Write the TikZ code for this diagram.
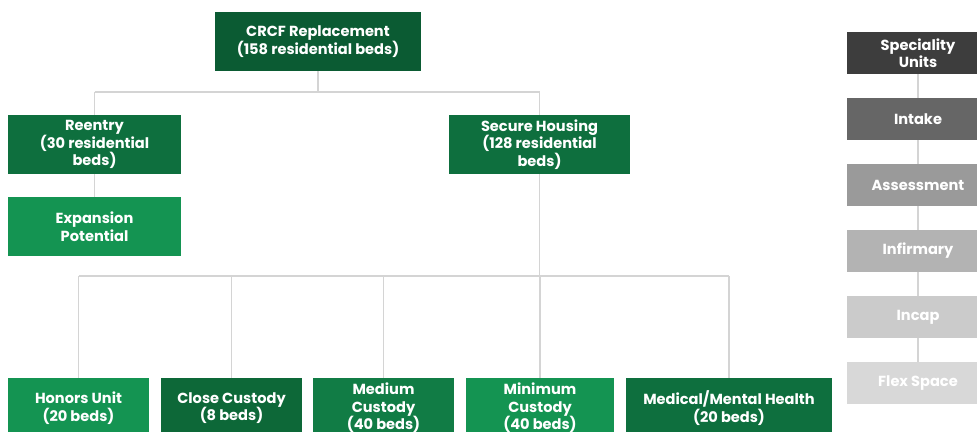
\documentclass[tikz,border=0pt]{standalone}
\usepackage{fontspec}
\setmainfont{Poppins}
\definecolor{gA}{HTML}{0B5B33}
\definecolor{gB}{HTML}{0E6F3E}
\definecolor{gC}{HTML}{149452}
\definecolor{gD}{HTML}{0D6838}
\definecolor{gE}{HTML}{117C45}
\definecolor{lineg}{HTML}{D4D4D4}
\definecolor{kA}{HTML}{3D3D3D}
\definecolor{kB}{HTML}{666666}
\definecolor{kC}{HTML}{9A9A9A}
\definecolor{kD}{HTML}{B3B3B3}
\definecolor{kE}{HTML}{CBCBCB}
\definecolor{kF}{HTML}{D8D8D8}
\tikzset{
  box/.style={draw=none, align=center, text=white, inner sep=0pt,
    font=\fontsize{14.6}{17.5}\selectfont\bfseries},
  lvlone/.style={box, minimum height=59pt},
  bottombox/.style={box, minimum height=60pt},
  sidebox/.style={box, minimum width=142pt, minimum height=42pt},
  ln/.style={draw=lineg, line width=1.3pt},
}
\begin{document}
\begin{tikzpicture}[x=1pt,y=-1pt]
\useasboundingbox (0,0) rectangle (977,431);
\begin{scope}
\clip (0,0) rectangle (977,431);
\coordinate (j1) at (318,92);
\coordinate (jl) at (94.5,92);
\coordinate (jr) at (539.5,92);
\coordinate (j2) at (539.5,276);
\coordinate (b1) at (78.5,276);
\coordinate (b2) at (231.5,276);
\coordinate (b3) at (383.5,276);
\coordinate (b4) at (540,276);
\coordinate (b5) at (729,276);

\node[lvlone, fill=gA, minimum width=206pt] (crcf) at (318,41.5) {CRCF Replacement\\(158 residential beds)};
\node[lvlone, fill=gB, minimum width=173pt] (reentry) at (94.5,144.5) {Reentry\\(30 residential\\beds)};
\node[lvlone, fill=gC, minimum width=173pt] (expansion) at (94.5,226.5) {Expansion\\Potential};
\node[lvlone, fill=gB, minimum width=181pt] (secure) at (539.5,144.5) {Secure Housing\\(128 residential\\beds)};

\node[bottombox, fill=gC, minimum width=141pt] (honors) at (78.5,408) {Honors Unit\\(20 beds)};
\node[bottombox, fill=gD, minimum width=141pt] (close) at (231.5,408) {Close Custody\\(8 beds)};
\node[bottombox, fill=gE, minimum width=141pt] (medium) at (383.5,408) {Medium\\Custody\\(40 beds)};
\node[bottombox, fill=gC, minimum width=148pt] (minimum) at (540,408) {Minimum\\Custody\\(40 beds)};
\node[bottombox, fill=gB, minimum width=206pt] (medical) at (729,408) {Medical/Mental Health\\(20 beds)};

\node[sidebox, fill=kA] (spec) at (918,53) {Speciality\\Units};
\node[sidebox, fill=kB] (intake) at (918,119) {Intake};
\node[sidebox, fill=kC] (assess) at (918,185) {Assessment};
\node[sidebox, fill=kD] (infirm) at (918,251) {Infirmary};
\node[sidebox, fill=kE] (incap) at (918,317) {Incap};
\node[sidebox, fill=kF] (flex) at (918,383) {Flex Space};

\draw[ln] (crcf.south) -- (j1);
\draw[ln] (jl) -- (jr);
\draw[ln] (jl) -- (reentry.north);
\draw[ln] (jr) -- (secure.north);
\draw[ln] (reentry.south) -- (expansion.north);
\draw[ln] (secure.south) -- (j2);
\draw[ln] (b1) -- (b5);
\draw[ln] (b1) -- (honors.north);
\draw[ln] (b2) -- (close.north);
\draw[ln] (b3) -- (medium.north);
\draw[ln] (b4) -- (minimum.north);
\draw[ln] (b5) -- (medical.north);
\draw[ln] (spec.south) -- (intake.north);
\draw[ln] (intake.south) -- (assess.north);
\draw[ln] (assess.south) -- (infirm.north);
\draw[ln] (infirm.south) -- (incap.north);
\draw[ln] (incap.south) -- (flex.north);
\end{scope}
\end{tikzpicture}
\end{document}
